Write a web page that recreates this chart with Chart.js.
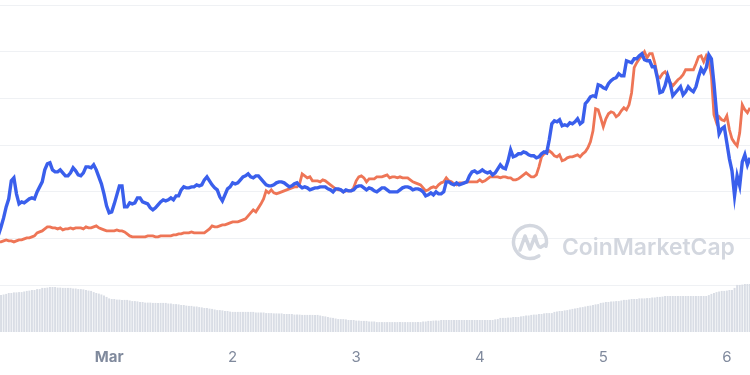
<!DOCTYPE html>
<html>
<head>
<meta charset="utf-8">
<script src="https://cdn.jsdelivr.net/npm/chart.js@4.4.1/dist/chart.umd.min.js"></script>
<style>
  html, body { margin: 0; padding: 0; background: #ffffff; }
  #wrap { width: 750px; height: 375px; }
</style>
</head>
<body>
<div id="wrap"><canvas id="priceChart" width="750" height="375"></canvas></div>
<script>
// Samples every 30 minutes, hours counted from Mar 1 00:00
const startHour = -21.5;
const stepHours = 0.5;

const tickHours = [0, 24, 48, 72, 96, 120];
const tickLabels = ['Mar', '2', '3', '4', '5', '6'];

const bluePrice = [
  29.1,31.5,34.2,37.5,39.9,45.3,46.2,41.4,38.4,39.0,
  38.7,39.3,39.9,40.2,39.9,42.0,43.5,45.0,48.6,50.4,
  50.7,48.6,48.0,48.0,48.6,47.7,46.8,46.8,47.7,49.2,
  48.3,47.1,46.8,47.7,49.5,49.5,49.2,50.1,48.6,46.5,
  44.4,41.4,37.8,35.7,36.0,38.4,41.1,43.8,43.8,37.5,
  37.5,38.7,38.4,38.7,40.2,40.2,39.0,38.7,38.4,37.2,
  36.6,37.2,38.1,39.0,39.6,39.3,39.6,40.2,39.6,40.8,
  40.8,42.6,43.5,43.2,43.2,43.5,43.5,44.1,43.8,44.1,
  45.6,46.5,45.3,44.1,43.2,42.6,40.5,39.3,41.1,42.9,
  43.5,44.7,44.4,44.7,45.6,46.5,46.8,47.4,46.5,46.2,
  46.8,46.8,45.9,45.0,44.1,43.8,43.8,44.1,44.7,45.0,
  45.0,44.7,44.1,43.5,43.8,44.4,44.7,43.8,43.2,43.5,
  43.2,42.6,42.9,43.2,43.2,43.5,43.5,43.5,42.9,42.6,
  42.0,42.9,42.9,42.6,42.0,42.6,42.3,42.3,42.6,43.5,
  43.8,43.8,43.2,42.6,43.2,42.9,42.3,42.0,42.6,43.2,
  43.2,42.6,42.0,42.0,42.0,42.0,42.6,43.2,43.5,43.5,
  43.2,42.6,42.9,42.9,42.6,42.0,40.8,41.1,41.7,41.1,
  42.0,41.4,41.4,42.0,45.0,45.0,44.4,44.1,44.7,44.1,
  44.4,44.7,45.0,46.8,48.0,48.3,47.7,48.0,48.6,48.0,
  47.7,48.0,47.1,47.7,48.9,50.1,49.2,48.9,51.3,54.6,
  52.5,52.8,53.4,53.4,54.0,53.7,53.1,52.8,52.8,52.2,
  52.5,53.4,54.0,53.7,57.6,62.4,63.3,63.0,63.6,61.8,
  62.1,61.8,62.7,62.4,63.0,63.9,62.4,63.0,68.4,69.3,
  70.5,70.8,70.5,74.1,73.8,73.2,72.9,74.4,75.3,75.9,
  76.2,77.4,76.8,76.8,81.3,81.0,80.7,81.9,81.9,82.8,
  83.4,81.6,81.3,81.3,79.5,79.5,76.2,71.7,72.0,73.8,
  76.8,74.4,70.8,71.7,72.6,73.5,71.1,72.0,73.5,72.6,
  72.0,73.5,76.5,78.9,77.7,79.2,83.1,81.9,74.4,65.7,
  59.4,60.9,61.5,56.7,51.9,48.3,40.8,46.8,43.8,51.0,
  53.1,50.1,52.2
];

const orangePrice = [
  27.0,27.0,27.3,27.6,27.3,27.3,27.0,27.3,27.6,27.6,
  27.9,28.2,28.2,28.5,28.8,29.7,30.0,30.3,30.9,31.5,
  31.5,31.2,31.2,30.9,31.2,30.6,30.9,30.9,31.2,30.9,
  31.2,31.2,31.2,30.9,31.5,31.2,31.2,31.5,31.8,31.2,
  30.9,30.6,30.3,30.3,30.3,30.3,30.6,30.3,30.3,30.0,
  29.4,28.8,28.5,28.5,28.5,28.5,28.5,28.5,28.8,28.8,
  28.8,28.5,28.5,28.8,28.8,28.8,28.8,28.8,29.1,29.1,
  29.4,29.4,29.7,29.7,29.7,30.0,29.7,29.7,29.7,29.7,
  29.7,30.3,30.9,31.8,31.5,31.5,31.8,32.1,32.1,32.4,
  32.7,33.0,33.0,33.0,33.3,33.6,33.9,34.8,35.7,36.6,
  36.0,37.2,38.4,39.9,42.3,41.7,42.6,41.7,41.4,41.7,
  42.0,42.3,42.6,42.9,43.2,43.5,43.5,44.4,47.4,46.8,
  46.2,46.5,45.3,45.3,45.3,45.0,45.6,45.3,44.7,44.1,
  43.5,42.9,42.6,42.6,42.0,42.3,42.3,42.3,43.2,45.3,
  46.5,46.8,46.2,45.0,45.9,45.9,45.9,46.5,46.5,46.5,
  46.8,47.1,46.2,46.5,46.5,46.2,46.5,46.2,46.2,46.2,
  45.6,45.0,44.7,44.4,44.1,43.2,42.3,42.6,43.2,43.5,
  43.2,44.1,44.7,45.0,46.2,45.3,45.0,44.4,44.1,44.7,
  44.7,44.7,45.0,45.0,45.0,45.0,45.0,45.6,45.0,45.3,
  45.9,46.5,46.5,46.5,46.5,46.2,46.5,46.5,46.2,46.2,
  45.6,45.6,45.9,46.5,47.1,47.7,47.1,46.5,46.5,47.1,
  49.5,52.5,53.4,53.7,54.3,53.7,52.8,52.5,53.1,51.3,
  51.6,52.2,52.5,52.5,52.8,53.1,52.5,53.4,54.0,55.2,
  57.0,60.3,66.9,66.6,64.2,61.5,63.9,65.4,66.0,65.7,
  64.5,65.1,66.3,67.2,66.6,68.1,71.7,79.2,80.7,81.9,
  82.8,84.0,82.2,83.4,83.4,80.7,76.8,76.2,77.4,78.0,
  76.8,74.7,73.8,74.7,75.6,76.2,77.1,78.6,78.6,78.6,
  78.6,80.4,82.5,82.8,81.0,82.8,81.3,76.8,65.1,62.7,
  64.5,63.6,63.3,64.8,60.6,57.9,56.7,55.8,59.7,68.1,
  66.6,65.7,67.2
];

const volume = [
  12.3,12.3,12.5,12.7,13.0,13.0,13.2,13.2,13.3,13.3,
  13.5,13.7,13.8,14.0,14.0,14.3,14.3,14.7,14.7,14.8,
  15.0,15.0,15.0,14.8,14.8,14.7,14.7,14.7,14.7,14.5,
  14.5,14.3,14.3,14.2,14.0,13.8,13.7,13.3,13.0,12.8,
  12.5,12.2,11.7,11.2,11.0,11.0,10.8,10.8,10.7,10.7,
  10.7,10.5,10.3,10.3,10.2,10.0,10.0,9.8,9.8,9.8,
  9.7,9.7,9.7,9.7,9.7,9.7,9.5,9.5,9.3,9.3,
  9.2,9.0,9.0,8.8,8.7,8.7,8.5,8.5,8.3,8.2,
  8.0,8.0,7.8,7.7,7.5,7.3,7.3,7.2,7.0,7.0,
  6.8,6.7,6.7,6.7,6.7,6.7,6.7,6.7,6.7,6.7,
  6.5,6.5,6.5,6.5,6.3,6.3,6.3,6.2,6.2,6.2,
  6.2,6.0,6.0,6.0,6.0,5.8,5.8,5.8,5.7,5.7,
  5.7,5.7,5.7,5.7,5.7,5.5,5.3,5.2,5.0,4.8,
  4.7,4.5,4.3,4.3,4.3,4.2,4.0,4.0,4.0,3.8,
  3.8,3.7,3.7,3.7,3.5,3.5,3.5,3.3,3.3,3.3,
  3.3,3.3,3.3,3.3,3.3,3.3,3.3,3.3,3.3,3.3,
  3.3,3.3,3.3,3.3,3.3,3.5,3.5,3.7,3.7,3.8,
  3.8,3.8,4.0,4.0,4.0,4.0,4.0,4.0,4.0,4.0,
  4.0,4.0,4.0,4.0,4.0,4.0,4.0,4.0,4.0,4.0,
  4.0,4.0,4.0,4.2,4.3,4.7,4.7,4.7,4.8,4.8,
  5.0,5.0,5.0,5.2,5.3,5.5,5.5,5.7,5.8,5.8,
  6.0,6.0,6.2,6.3,6.3,6.3,6.7,6.8,7.0,7.0,
  7.2,7.3,7.5,7.7,7.8,8.0,8.2,8.3,8.5,8.7,
  8.8,9.0,9.2,9.3,9.7,9.8,10.0,10.0,10.2,10.2,
  10.3,10.3,10.5,10.7,10.7,10.8,11.0,11.0,11.0,11.2,
  11.2,11.2,11.3,11.3,11.5,11.5,11.7,11.7,11.8,12.0,
  12.0,12.0,12.0,12.0,12.0,12.0,12.0,12.0,12.0,12.0,
  12.0,12.0,12.0,12.0,12.0,12.0,12.3,12.7,13.0,13.3,
  13.5,13.7,13.7,13.8,14.0,14.0,14.7,15.7,15.7,15.8,
  16.0,16.0,16.0
];

function toPoints(values) {
  return values.map((v, i) => ({ x: startHour + i * stepHours, y: v }));
}

// CoinMarketCap watermark behind the lines
const watermark = {
  id: 'watermark',
  beforeDatasetsDraw(chart) {
    const ctx = chart.ctx;
    ctx.save();
    ctx.strokeStyle = '#d3d7df';
    ctx.lineWidth = 3.5;
    ctx.lineCap = 'round';
    ctx.lineJoin = 'round';
    ctx.beginPath();
    ctx.arc(530, 242, 16.5, 0.32 * Math.PI, 0.1 * Math.PI + 2 * Math.PI - 0.05, false);
    ctx.stroke();
    ctx.beginPath();
    ctx.moveTo(520, 250);
    ctx.lineTo(525, 236);
    ctx.lineTo(530, 249);
    ctx.lineTo(535, 236);
    ctx.quadraticCurveTo(538, 249, 541, 247);
    ctx.lineTo(546, 244);
    ctx.stroke();

    const text = 'CoinMarketCap';
    ctx.fillStyle = '#d3d7df';
    ctx.textBaseline = 'alphabetic';
    let size = 26;
    ctx.font = '600 ' + size + 'px Inter, "Noto Sans", sans-serif';
    size = size * 173 / ctx.measureText(text).width;
    ctx.font = '600 ' + size + 'px Inter, "Noto Sans", sans-serif';
    ctx.fillText(text, 562, 255);
    ctx.restore();
  }
};

const ctx = document.getElementById('priceChart').getContext('2d');
const chart = new Chart(ctx, {
  type: 'line',
  data: {
    datasets: [
      {
        label: 'Price',
        data: toPoints(bluePrice),
        borderColor: '#3a5fec',
        borderWidth: 3.4,
        pointRadius: 0,
        tension: 0,
        order: 0
      },
      {
        label: 'Compared',
        data: toPoints(orangePrice),
        borderColor: '#ee7556',
        borderWidth: 2.8,
        pointRadius: 0,
        tension: 0,
        order: 1
      },
      {
        type: 'bar',
        label: 'Volume',
        data: toPoints(volume),
        yAxisID: 'yVol',
        backgroundColor: '#d9dde5',
        barPercentage: 0.75,
        categoryPercentage: 1,
        order: 2
      }
    ]
  },
  options: {
    responsive: false,
    animation: false,
    devicePixelRatio: 1,
    layout: { padding: { top: 5, bottom: 9, left: 0, right: 0 } },
    plugins: {
      legend: { display: false },
      tooltip: { enabled: false }
    },
    scales: {
      x: {
        type: 'linear',
        min: -21.2,
        max: 124.5,
        offset: false,
        grid: { display: false, drawTicks: false, offset: false },
        border: { display: false },
        afterBuildTicks: scale => {
          scale.ticks = tickHours.map(h => ({ value: h }));
        },
        afterFit: scale => { scale.height = 34; },
        ticks: {
          autoSkip: false,
          maxRotation: 0,
          padding: 16,
          color: '#808a9d',
          font: ctx => ({
            family: 'Inter, "Noto Sans", sans-serif',
            size: 15,
            weight: ctx.index === 0 ? '700' : '400'
          }),
          callback: (value, index) => tickLabels[index]
        }
      },
      y: {
        min: 0,
        max: 98,
        afterFit: scale => { scale.width = 0; },
        ticks: { display: false, stepSize: 14 },
        border: { display: false },
        grid: {
          drawTicks: false,
          color: c => (c.tick && c.tick.value === 0 ? 'rgba(0,0,0,0)' : '#eff1f4')
        }
      },
      yVol: {
        display: false,
        min: 0,
        max: 109
      }
    }
  },
  plugins: [watermark]
});
</script>
</body>
</html>
